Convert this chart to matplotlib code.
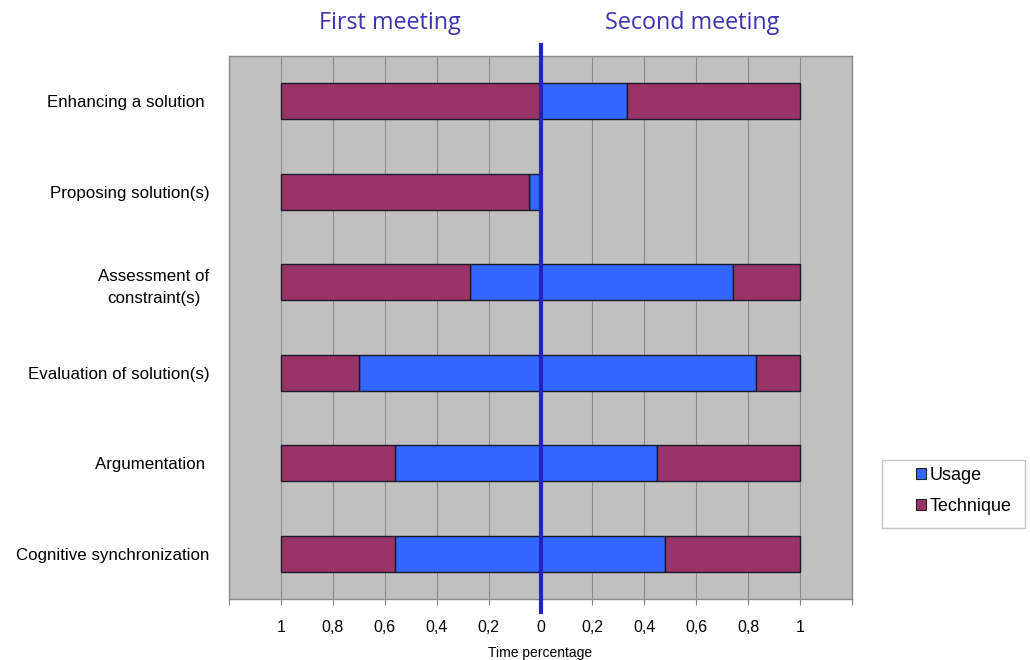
import matplotlib
matplotlib.use("Agg")
import matplotlib.pyplot as plt
import numpy as np
from matplotlib.patches import Patch, Rectangle

categories = ["Enhancing a solution ", "Proposing solution(s)", "Assessment of\nconstraint(s)",
              "Evaluation of solution(s)", "Argumentation ", "Cognitive synchronization"]
usage_first = [0.0, 0.045, 0.27, 0.70, 0.56, 0.56]
technique_first = [1.0, 0.955, 0.73, 0.30, 0.44, 0.44]
usage_second = [0.335, 0.0, 0.74, 0.83, 0.45, 0.48]
technique_second = [0.665, 0.0, 0.26, 0.17, 0.55, 0.52]
tick_values = [-1.2, -1.0, -0.8, -0.6, -0.4, -0.2, 0.0, 0.2, 0.4, 0.6, 0.8, 1.0, 1.2]
tick_labels = ["", "1", "0,8", "0,6", "0,4", "0,2", "0", "0,2", "0,4", "0,6", "0,8", "1", ""]

BLUE = "#3366FF"
PLUM = "#993366"
LINE = "#2323C0"
TITLE = "#3B33B0"

plt.rcParams['font.family'] = ['Liberation Sans', 'DejaVu Sans']

fig = plt.figure(figsize=(10.3, 6.6), dpi=100)
ax = fig.add_axes([229/1030, 1-599/660, (852-229)/1030, (599-56)/660])
ax.set_facecolor("#C0C0C0")

y = np.arange(len(categories))
h = 0.4
uf = np.array(usage_first); tf = np.array(technique_first)
us = np.array(usage_second); ts = np.array(technique_second)

ax.barh(y, -uf, height=h, left=0, color=BLUE, edgecolor="#1a1a2a", linewidth=1, zorder=3)
ax.barh(y, -tf, height=h, left=-uf, color=PLUM, edgecolor="#1a1a2a", linewidth=1, zorder=3)
ax.barh(y, us, height=h, left=0, color=BLUE, edgecolor="#1a1a2a", linewidth=1, zorder=3)
ax.barh(y, ts, height=h, left=us, color=PLUM, edgecolor="#1a1a2a", linewidth=1, zorder=3)

ax.set_xlim(-1.2, 1.2)
ax.set_ylim(len(categories)-0.5, -0.5)
ax.set_xticks(tick_values)
ax.set_xticklabels(tick_labels, fontsize=11.5)
ax.set_yticks(y)
ax.set_yticklabels(categories, fontsize=12.2, ha='right', linespacing=1.6)
for lab in ax.get_yticklabels():
    lab.set_multialignment('center')
ax.tick_params(axis='y', length=0, pad=14)
ax.tick_params(axis='x', length=4, color="#808080", pad=11)
ax.xaxis.grid(True, color="#8c8c8c", linewidth=0.8, zorder=1)
ax.set_axisbelow(True)
for s in ax.spines.values():
    s.set_color("#8a8a8a")
    s.set_linewidth(1)

ax.axvline(0, ymin=-0.024, ymax=1.02, color=LINE, linewidth=3, zorder=5, clip_on=False)

ax.set_xlabel("Time percentage", fontsize=10, labelpad=8)

fig.text(390/1030, 1-23/660, "First meeting", color=TITLE, fontsize=16.8,
         family=['Open Sans', 'DejaVu Sans'], ha='center', va='center')
fig.text(692/1030, 1-23/660, "Second meeting", color=TITLE, fontsize=16.8,
         family=['Open Sans', 'DejaVu Sans'], ha='center', va='center')

# legend frame
fig.add_artist(Rectangle((882/1030, 1-528/660), (1025-882)/1030, (528-460)/660,
                         transform=fig.transFigure, facecolor="white", edgecolor="#c4c4c4",
                         linewidth=1, zorder=0))
handles = [Patch(facecolor=BLUE, edgecolor="#222222", linewidth=0.8, label="Usage"),
           Patch(facecolor=PLUM, edgecolor="#222222", linewidth=0.8, label="Technique")]
leg = fig.legend(handles=handles, loc='center left', bbox_to_anchor=(916/1030, 1-491/660),
                 frameon=False, fontsize=13, handlelength=0.55, handleheight=0.55,
                 handletextpad=0.2, borderpad=0, labelspacing=0.8, borderaxespad=0)

fig.savefig("out.png", dpi=100)
